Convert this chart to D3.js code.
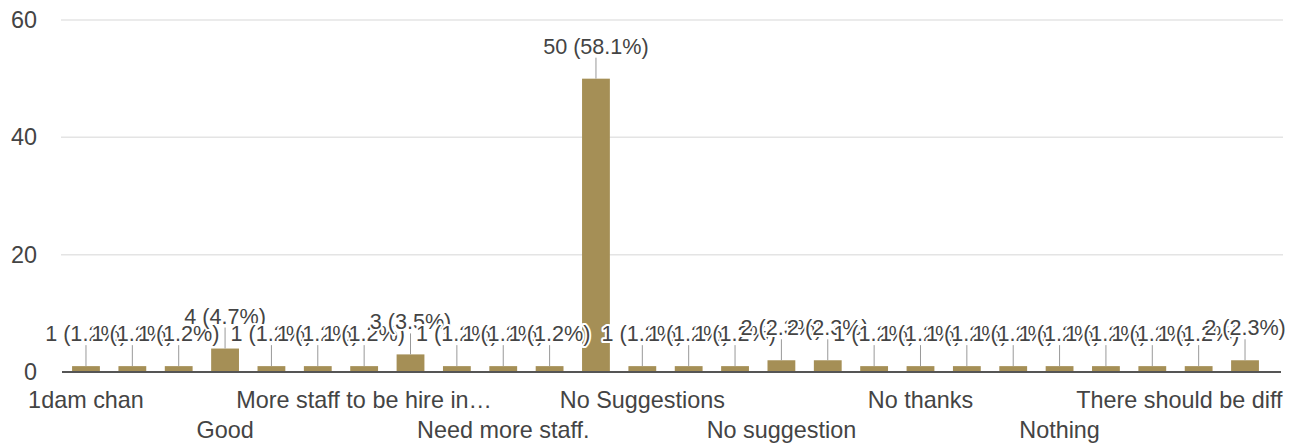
<!DOCTYPE html>
<html><head><meta charset="utf-8">
<script src="https://cdn.jsdelivr.net/npm/d3@7"></script>
<style>
body{margin:0;background:#fff}
svg text{font-family:Arial,"Liberation Sans",sans-serif}
</style>
</head><body><svg id="c" width="1303" height="447"></svg>
<script>
const categories = ["1dam chan","Adequate staff","Better service","Good","Improve waiting time","More doctors",
  "More staff to be hire in…","More staff needed","Need more nurses","Need more staff.","Nil","No",
  "No Suggestions","No comment","No comments","No suggestion","No suggestions","None","No thanks",
  "Not applicable","Not at all","Nothing","Nothing to add","Nothing.","There should be diff","Very good"];
const values = [1,1,1,4,1,1,1,3,1,1,1,50,1,1,1,2,2,1,1,1,1,1,1,1,1,2];
const percents = ["1.2%","1.2%","1.2%","4.7%","1.2%","1.2%","1.2%","3.5%","1.2%","1.2%","1.2%","58.1%",
  "1.2%","1.2%","1.2%","2.3%","2.3%","1.2%","1.2%","1.2%","1.2%","1.2%","1.2%","1.2%","1.2%","2.3%"];
const yTicks = [0,20,40,60];

const FONT = 'Arial, "Liberation Sans", sans-serif';
const svg = d3.select("#c");
const x = d3.scaleBand().domain(categories).range([62.8,1268.2]).paddingInner(0.4).paddingOuter(0.2);
const y = d3.scaleLinear().domain([0,60]).range([372,20]);

// gridlines
svg.append("g").selectAll("line").data(yTicks.filter(d=>d>0)).join("line")
  .attr("x1",61).attr("x2",1283).attr("y1",d=>y(d)).attr("y2",d=>y(d))
  .attr("stroke","#e4e4e4").attr("stroke-width",1.5);

// y axis
const yAxis = svg.append("g").attr("transform","translate(41,0)")
  .call(d3.axisLeft(y).tickValues(yTicks).tickSize(0).tickPadding(4));
yAxis.select(".domain").remove();
yAxis.selectAll("text").attr("font-size",23.4).attr("fill","#444").attr("font-family",FONT);

// bars
const data = categories.map((c,i)=>({c, v:values[i], p:percents[i], i}));
svg.append("g").selectAll("rect").data(data).join("rect")
  .attr("x",d=>x(d.c)).attr("y",d=>y(d.v)).attr("width",x.bandwidth())
  .attr("height",d=>y(0)-y(d.v)).attr("fill","#a58f56");

// baseline
svg.append("line").attr("x1",62).attr("x2",1281).attr("y1",y(0)).attr("y2",y(0))
  .attr("stroke","#555").attr("stroke-width",2);

// stems
svg.append("g").selectAll("line").data(data).join("line")
  .attr("x1",d=>x(d.c)+x.bandwidth()/2).attr("x2",d=>x(d.c)+x.bandwidth()/2)
  .attr("y1",d=>y(d.v)).attr("y2",d=>y(d.v)-21)
  .attr("stroke","#999").attr("stroke-width",1);

// annotations
const ann = svg.append("g");
data.forEach(d=>{
  ann.append("text")
    .attr("x",x(d.c)+x.bandwidth()/2).attr("y",y(d.v)-25)
    .attr("text-anchor","middle").attr("font-size",21.6).attr("font-family",FONT)
    .attr("fill","#444").attr("stroke","#fff").attr("stroke-width",4)
    .attr("paint-order","stroke").attr("stroke-linejoin","round")
    .text(`${d.v} (${d.p})`);
});

// x axis labels (every third, staggered in two rows)
const xAxis = svg.append("g").attr("transform",`translate(0,${y(0)})`)
  .call(d3.axisBottom(x).tickSize(0).tickFormat((d,i)=> i%3===0 ? d : ""));
xAxis.select(".domain").remove();
xAxis.selectAll("text").each(function(d,i){
  const t = d3.select(this);
  t.attr("font-size",23.4).attr("fill","#444").attr("font-family",FONT)
   .attr("dy",null).attr("y", (Math.floor(i/3)%2===0) ? 36 : 66);
  if (i%3!==0) return;
  const bb = this.getBBox();
  const tr = d3.select(this.parentNode).attr("transform");
  const m = /translate\(([-\d.]+)/.exec(tr);
  const cx = m ? +m[1] : 0;
  const right = cx + bb.x + bb.width;
  if (right > 1283) t.attr("x", 1283 - right);
});
</script>
</body></html>
